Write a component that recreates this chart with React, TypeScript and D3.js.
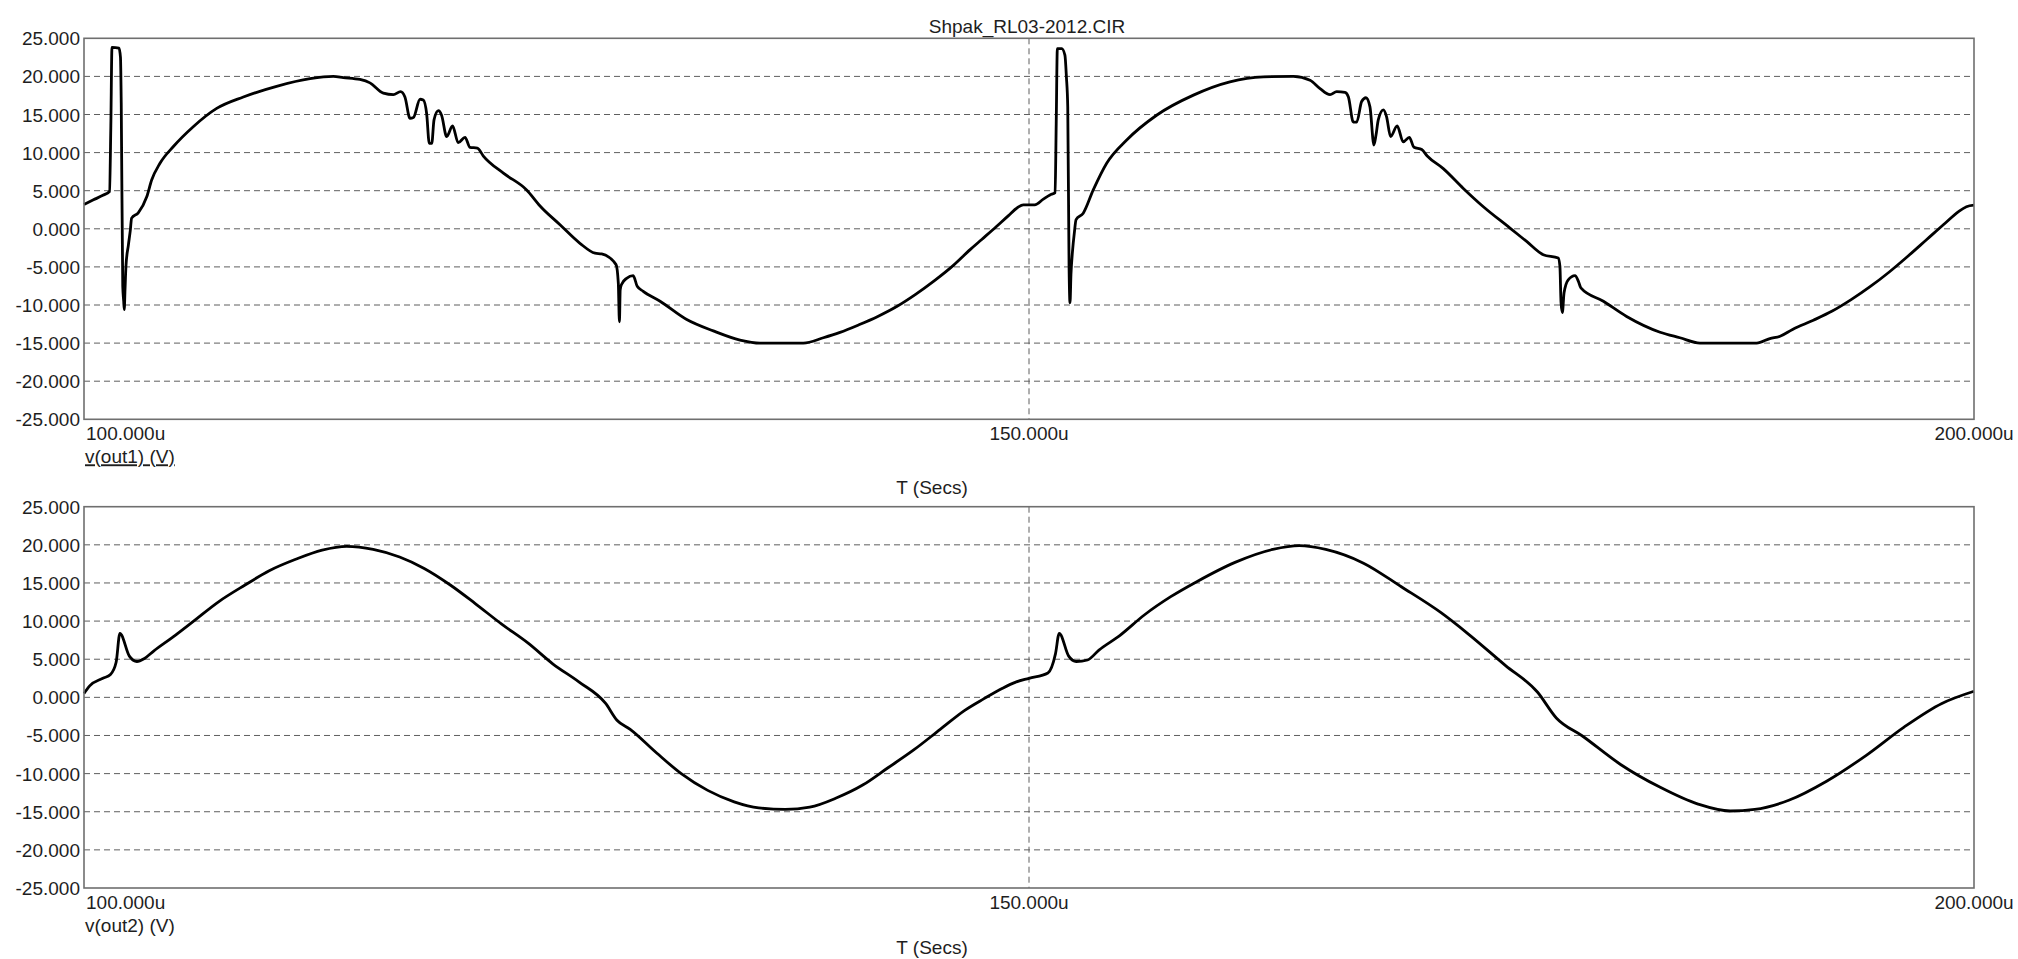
import React from "react";
import * as d3 from "d3";

const TITLE = "Shpak_RL03-2012.CIR";
const yTicks = [25, 20, 15, 10, 5, 0, -5, -10, -15, -20, -25];
const yTickLabels = ["25.000", "20.000", "15.000", "10.000", "5.000", "0.000", "-5.000", "-10.000", "-15.000", "-20.000", "-25.000"];
const xTicks = [100, 150, 200];
const xTickLabels = ["100.000u", "150.000u", "200.000u"];
const xVGrid = [150];
const xAxisTitle = "T (Secs)";
const seriesNames = ["v(out1) (V)", "v(out2) (V)"];

// v(out1): time (us), voltage (V)
const out1T = [
  100.0, 100.5, 101.0, 101.35, 101.42, 101.48, 101.85, 101.93, 101.97, 102.05, 102.1, 102.13, 102.17, 102.22, 102.35, 102.45, 102.52, 102.87,
  103.32, 103.58, 104.02, 104.73, 105.78, 107.02, 108.43, 110.19, 111.96, 113.19, 113.72, 114.6, 115.13, 115.84, 116.37, 116.75, 116.98,
  117.25, 117.43, 117.78, 117.95, 118.13, 118.27, 118.4, 118.52, 118.75, 118.92, 119.19, 119.5, 119.8, 120.16, 120.42, 120.81, 121.13,
  122.19, 123.42, 124.13, 125.2, 126.24, 127.04, 127.39, 128.15, 128.27, 128.33, 128.37, 128.44, 128.71, 129.06, 129.27, 129.59, 130.48,
  131.89, 133.3, 134.71, 135.77, 138.06, 139.12, 140.0, 141.0, 142.0, 143.0, 144.0, 145.0, 146.0, 146.9, 147.5, 148.1, 148.9, 149.4,
  149.7, 150.3, 150.76, 151.11, 151.38, 151.44, 151.5, 151.73, 151.9, 151.98, 152.05, 152.12, 152.17, 152.22, 152.3, 152.4, 152.49,
  152.87, 153.4, 154.11, 155.17, 156.75, 158.7, 160.63, 162.4, 163.99, 164.87, 165.4, 165.93, 166.28, 166.72, 166.9, 167.16, 167.34,
  167.6, 167.83, 168.04, 168.25, 168.36, 168.48, 168.75, 168.92, 169.13, 169.48, 169.8, 170.12, 170.37, 170.78, 171.07, 171.92,
  172.98, 174.04, 175.45, 176.33, 177.21, 178.0, 178.09, 178.15, 178.22, 178.31, 178.53, 178.89, 179.07, 179.2, 180.39, 181.62,
  183.39, 184.44, 185.5, 188.5, 189.2, 189.74, 190.4, 191.5, 192.5, 193.5, 194.5, 195.5, 196.5, 197.5, 198.5, 199.2, 199.6, 200.0,
];
const out1V = [
  3.2, 3.8, 4.4, 4.9, 13.5, 23.8, 23.7, 22.5, 16.5, -7.5, -9.5, -10.6, -8.0, -4.9, -2.1, -0.2, 1.4, 2.1,
  4.2, 6.4, 8.6, 10.8, 13.4, 15.8, 17.3, 18.7, 19.7, 20.0, 19.85, 19.6, 19.15, 17.8, 17.6, 18.0, 17.3,
  14.5, 14.6, 17.0, 16.9, 15.1, 11.2, 11.2, 14.3, 15.5, 14.9, 12.1, 13.5, 11.3, 12.0, 10.7, 10.6, 9.55,
  7.3, 5.1, 3.0, 0.5, -1.9, -3.2, -3.3, -4.7, -7.1, -12.2, -8.0, -7.3, -6.5, -6.15, -7.55, -8.2, -9.5,
  -11.9, -13.4, -14.6, -15.0, -15.0, -14.3, -13.6, -12.6, -11.5, -10.2, -8.6, -6.8, -4.8, -2.7, -1.4, -0.1, 1.7, 2.8,
  3.14, 3.14, 3.9, 4.45, 4.75, 13.8, 23.65, 23.65, 22.8, 19.9, 16.0, -5.0, -9.7, -6.0, -3.0, -0.5, 1.2,
  2.05, 5.1, 8.6, 11.65, 14.9, 17.54, 19.28, 19.93, 20.0, 19.5, 18.4, 17.6, 18.0, 17.9, 17.3, 14.0, 14.0,
  16.7, 17.2, 16.0, 11.0, 12.3, 14.3, 15.6, 14.7, 12.1, 13.5, 11.4, 12.0, 10.7, 10.4, 9.55, 7.9,
  5.3, 2.9, 0.1, -1.66, -3.4, -3.84, -4.9, -9.7, -11.0, -8.4, -6.7, -6.15, -6.9, -7.76, -9.5, -11.5,
  -13.57, -14.3, -15.0, -15.0, -14.4, -14.1, -13.2, -12.0, -10.8, -9.3, -7.6, -5.7, -3.6, -1.4, 0.8, 2.3, 2.9, 3.1,
];

// v(out2): time (us), voltage (V)
const out2T = [
  100.0, 100.3, 101.0, 101.4, 101.7, 101.9, 102.4, 102.8, 103.2, 103.7, 104.7, 105.8, 107.1, 108.5, 109.8, 111.2, 112.6, 113.9,
  115.3, 116.7, 118.0, 119.4, 120.7, 122.1, 123.5, 124.8, 126.2, 127.6, 128.2, 128.9, 130.3, 131.6, 133.0, 134.4, 135.7, 137.1,
  138.4, 139.8, 141.2, 142.5, 143.9, 145.3, 146.6, 147.6, 148.6, 149.3, 150.0, 151.0, 151.4, 151.6, 152.1, 152.5, 153.1, 153.7,
  154.8, 156.1, 157.5, 158.9, 160.9, 162.9, 164.3, 165.7, 167.7, 169.7, 171.8, 173.2, 175.2, 176.9, 177.9, 179.3, 181.3, 183.4,
  185.4, 187.1, 188.4, 190.2, 192.2, 194.3, 196.3, 198.3, 200.0,
];
const out2V = [
  0.5, 1.5, 2.5, 3.0, 4.6, 8.4, 5.4, 4.7, 5.1, 6.1, 7.9, 10.0, 12.5, 14.7, 16.6, 18.1, 19.3, 19.8,
  19.4, 18.4, 16.9, 14.7, 12.3, 9.6, 7.1, 4.4, 2.0, -0.8, -3.0, -4.2, -7.3, -10.0, -12.2, -13.7, -14.5, -14.7,
  -14.4, -13.2, -11.5, -9.3, -6.9, -4.2, -1.7, -0.2, 1.2, 2.0, 2.5, 3.2, 5.7, 8.4, 5.4, 4.7, 4.9, 6.2,
  8.1, 10.8, 13.2, 15.2, 17.7, 19.4, 19.9, 19.4, 17.6, 14.5, 11.1, 8.4, 4.2, 0.7, -2.7, -5.1, -8.8, -11.8,
  -14.0, -14.9, -14.7, -13.5, -11.0, -7.6, -3.9, -0.8, 0.8,
];

const W = 2018;
const H = 959;
const FONT = "'Liberation Sans', Arial, Helvetica, sans-serif";
const FS = 19;
const TEXT = "#1e1e1e";
const FRAME = "#6f6f6f";
const GRID = "#5f5f5f";

const PL = 84;
const PR = 1974;
const panels = [
  { top: 38.3, bottom: 419.3, t: out1T, v: out1V, name: seriesNames[0], underline: true, titleY: 494 },
  { top: 506.7, bottom: 888, t: out2T, v: out2V, name: seriesNames[1], underline: false, titleY: 954 },
];

function Panel({ p }: { p: typeof panels[0] }) {
  const x = d3.scaleLinear().domain([100, 200]).range([PL, PR]);
  const y = d3.scaleLinear().domain([-25, 25]).range([p.bottom, p.top]);
  const pts = p.t.map((t, i) => [t, p.v[i]] as [number, number]);
  const line = d3
    .line<[number, number]>()
    .x((d) => x(d[0]))
    .y((d) => y(d[1]))
    .curve(d3.curveMonotoneX);
  return (
    <g>
      {yTicks
        .filter((v) => v !== 25 && v !== -25)
        .map((v) => (
          <line key={"g" + v} x1={PL} x2={PR} y1={y(v)} y2={y(v)} stroke={GRID} strokeWidth={1} strokeDasharray="6,4" />
        ))}
      {xVGrid.map((t) => (
        <line key={"vg" + t} x1={x(t)} x2={x(t)} y1={p.top} y2={p.bottom} stroke={GRID} strokeWidth={1} strokeDasharray="6,4" />
      ))}
      <path d={line(pts) || ""} fill="none" stroke="#000" strokeWidth={2.8} strokeLinejoin="miter" strokeMiterlimit={2} />
      <rect x={PL} y={p.top} width={PR - PL} height={p.bottom - p.top} fill="none" stroke={FRAME} strokeWidth={1.6} />
      {yTicks.map((v, i) => (
        <text key={"yl" + v} x={80} y={y(v) + 7} textAnchor="end" fontFamily={FONT} fontSize={FS} fill={TEXT}>
          {yTickLabels[i]}
        </text>
      ))}
      {xTicks.map((t, i) => (
        <text
          key={"xl" + t}
          x={i === 0 ? PL + 2 : x(t)}
          y={p.bottom + 21}
          textAnchor={i === 0 ? "start" : "middle"}
          fontFamily={FONT}
          fontSize={FS}
          fill={TEXT}
        >
          {xTickLabels[i]}
        </text>
      ))}
      <text
        x={PL + 1}
        y={p.bottom + 44}
        fontFamily={FONT}
        fontSize={FS}
        fill={TEXT}
        style={p.underline ? { textDecoration: "underline" } : undefined}
      >
        {p.name}
      </text>
      <text x={932} y={p.titleY} textAnchor="middle" fontFamily={FONT} fontSize={FS} fill={TEXT}>
        {xAxisTitle}
      </text>
    </g>
  );
}

export default function App() {
  return (
    <div style={{ position: "absolute", left: 0, top: 0, width: W, height: H, background: "#fff" }}>
      <svg width={W} height={H} style={{ display: "block" }}>
        <rect x={0} y={0} width={W} height={H} fill="#fff" />
        <text x={1027} y={33} textAnchor="middle" fontFamily={FONT} fontSize={FS} fill={TEXT}>
          {TITLE}
        </text>
        {panels.map((p, i) => (
          <Panel key={i} p={p} />
        ))}
      </svg>
    </div>
  );
}
